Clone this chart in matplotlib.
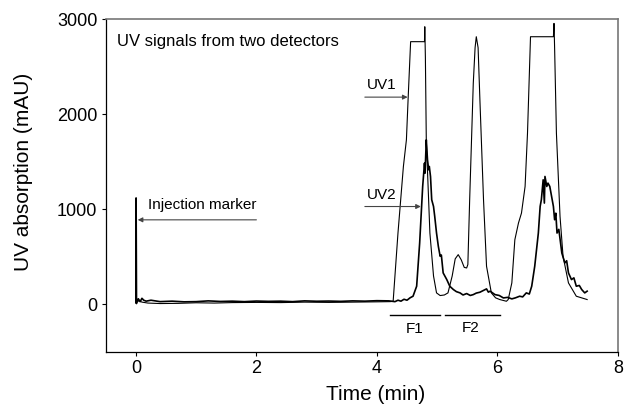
import matplotlib
matplotlib.use("Agg")
import matplotlib.pyplot as plt

plt.rcParams['font.family'] = ['Liberation Sans', 'DejaVu Sans']

# UV1 detector trace (time in min, absorption in mAU)
uv1_t = [0.0, 0.05, 0.1, 0.2, 0.4, 0.7, 1.0, 1.3, 1.6, 2.0, 2.4, 2.8, 3.2, 3.6, 4.0, 4.22,
         4.27, 4.35, 4.44, 4.49, 4.52, 4.56, 4.79, 4.795, 4.805, 4.82, 4.88, 4.94, 4.99,
         5.05, 5.12, 5.18, 5.25, 5.30, 5.35, 5.40, 5.45, 5.49, 5.51, 5.54, 5.60, 5.63,
         5.65, 5.68, 5.71, 5.77, 5.82, 5.90, 5.97, 6.04, 6.15, 6.18, 6.24, 6.29, 6.35,
         6.40, 6.46, 6.50, 6.55, 6.93, 6.94, 6.95, 6.98, 7.04, 7.09, 7.18, 7.31, 7.49]
uv1_y = [20, 40, 25, 15, 10, 12, 18, 15, 20, 22, 20, 25, 22, 25, 28, 30,
         34, 751, 1451, 1731, 2186, 2763, 2763, 2920, 2600, 1731, 751, 300, 122,
         94, 100, 122, 300, 480, 524, 470, 390, 384, 420, 1101, 2326, 2700,
         2815, 2700, 2151, 1101, 402, 122, 70, 52, 34, 52, 227, 681, 856,
         961, 1241, 1801, 2815, 2815, 2955, 2700, 1801, 926, 507, 227, 87, 52]

# UV2 detector trace (includes the injection marker at t = 0)
uv2_t = [0.0, 0.003, 0.01, 0.04, 0.07, 0.1, 0.13, 0.17, 0.25, 0.4, 0.6, 0.8, 1.0, 1.2,
         1.4, 1.6, 1.8, 2.0, 2.2, 2.4, 2.6, 2.8, 3.0, 3.2, 3.4, 3.6, 3.8, 4.0, 4.2,
         4.3, 4.35, 4.4, 4.45, 4.5, 4.55, 4.60, 4.66, 4.71, 4.76, 4.79, 4.80, 4.81,
         4.82, 4.84, 4.86, 4.87, 4.89, 4.91, 4.94, 4.96, 4.99, 5.02, 5.05, 5.07, 5.10,
         5.16, 5.21, 5.27, 5.32, 5.38, 5.43, 5.49, 5.55, 5.60, 5.65, 5.71, 5.76, 5.82,
         5.85, 5.88, 5.96, 6.03, 6.10, 6.17, 6.24, 6.30, 6.37, 6.42, 6.48, 6.53, 6.57,
         6.62, 6.68, 6.71, 6.73, 6.76, 6.78, 6.79, 6.82, 6.84, 6.87, 6.90, 6.93, 6.95,
         6.97, 6.99, 7.02, 7.07, 7.12, 7.15, 7.18, 7.23, 7.27, 7.31, 7.36, 7.40, 7.45,
         7.49]
uv2_y = [20, 1120, 10, 60, 30, 65, 45, 35, 45, 30, 35, 28, 30, 38,
         32, 35, 30, 36, 33, 35, 30, 38, 34, 36, 33, 38, 35, 40, 38,
         30, 45, 35, 55, 45, 70, 87, 192, 646, 1241, 1486, 1381, 1560,
         1731, 1521, 1416, 1451, 1346, 1101, 1031, 926, 751, 611, 507, 520, 332,
         262, 192, 157, 135, 122, 100, 115, 95, 104, 120, 129, 145, 164,
         130, 140, 104, 95, 69, 75, 59, 70, 87, 80, 122, 110, 192,
         402, 751, 1031, 1101, 1311, 1066, 1346, 1241, 1276, 1241, 1136, 1031, 891,
         960, 751, 790, 541, 437, 460, 332, 262, 280, 192, 200, 157, 122,
         140]

# Fraction bars (start, end) in min
frac_names = ["F1", "F2"]
frac_start = [4.22, 5.13]
frac_end = [5.04, 6.04]

x_ticks = [0, 2, 4, 6, 8]
y_ticks = [0, 1000, 2000, 3000]

fig = plt.figure(figsize=(6.26, 4.07), dpi=100)
ax = fig.add_axes([0.169, 0.135, 0.818, 0.818])

ax.plot(uv1_t, uv1_y, color='black', lw=0.8)
ax.plot(uv2_t, uv2_y, color='black', lw=1.2)

ax.set_xlim(-0.5, 8)
ax.set_ylim(-500, 3000)
ax.set_xticks(x_ticks)
ax.set_yticks(y_ticks)
ax.tick_params(direction='out', length=3, width=0.8, labelsize=13, pad=3)
ax.set_xlabel("Time (min)", fontsize=15)
ax.set_ylabel("UV absorption (mAU)", fontsize=15)
ax.xaxis.set_label_coords(0.527, -0.1)
ax.yaxis.set_label_coords(-0.143, 0.54)

for s in ['left', 'bottom']:
    ax.spines[s].set_color('black')
    ax.spines[s].set_linewidth(0.9)
for s in ['top', 'right']:
    ax.spines[s].set_color('#777777')
    ax.spines[s].set_linewidth(1.2)

ax.text(-0.32, 2770, "UV signals from two detectors", fontsize=12, va='center', ha='left')

arrow_kw = dict(arrowstyle='-|>', color='#444444', lw=0.8, mutation_scale=7, shrinkA=0, shrinkB=0)
ax.annotate("", xy=(0.03, 890), xytext=(2.0, 890), arrowprops=arrow_kw)
ax.text(0.2, 1050, "Injection marker", fontsize=11, va='center', ha='left')

ax.annotate("", xy=(4.51, 2180), xytext=(3.80, 2180), arrowprops=arrow_kw)
ax.text(3.83, 2310, "UV1", fontsize=11, va='center', ha='left')
ax.annotate("", xy=(4.73, 1030), xytext=(3.80, 1030), arrowprops=arrow_kw)
ax.text(3.83, 1155, "UV2", fontsize=11, va='center', ha='left')

for name, a, b in zip(frac_names, frac_start, frac_end):
    ax.plot([a, b], [-115, -115], color='black', lw=1.0)
ax.text(4.63, -262, "F1", fontsize=11, va='center', ha='center')
ax.text(5.56, -250, "F2", fontsize=11, va='center', ha='center')

fig.savefig("out.png", dpi=100)
